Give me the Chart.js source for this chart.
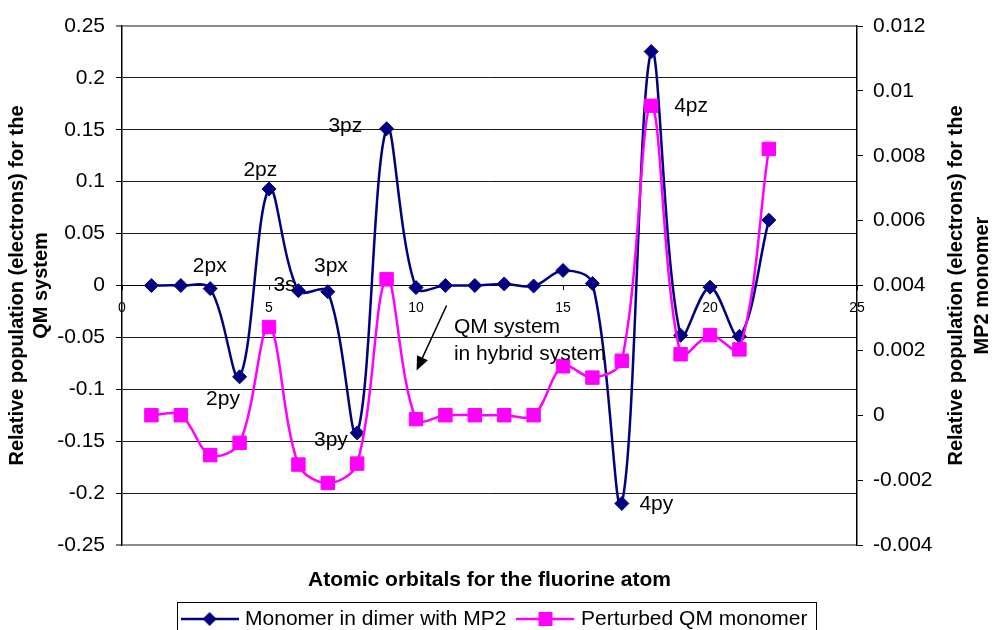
<!DOCTYPE html>
<html>
<head>
<meta charset="utf-8">
<script src="https://cdn.jsdelivr.net/npm/chart.js@4.4.1/dist/chart.umd.min.js"></script>
<style>
  html, body { margin: 0; padding: 0; background: #fff; }
  #wrap { width: 992px; height: 630px; }
</style>
</head>
<body>
<div id="wrap"><canvas id="myChart" width="992" height="630"></canvas></div>
<script>
// orbital index (x) and both series
const orbitalIndex = [1, 2, 3, 4, 5, 6, 7, 8, 9, 10, 11, 12, 13, 14, 15, 16, 17, 18, 19, 20, 21, 22];
const monomerMP2 = [0, 0, -0.003, -0.088, 0.093, -0.005, -0.006, -0.142, 0.151, -0.002, 0, 0,
  0.0015, -0.0005, 0.0145, 0.002, -0.21, 0.2254, -0.048, -0.0016, -0.049, 0.063];
const perturbedQM = [0, 0, -0.00123, -0.00085, 0.00272, -0.00152, -0.00209, -0.00149, 0.00419, -0.00012, 0, 0,
  0, 0, 0.00151, 0.00116, 0.00168, 0.00954, 0.00188, 0.00247, 0.00203, 0.00821];

// tick values
const xTicks = [0, 5, 10, 15, 20, 25];
const leftTicks = [-0.25, -0.2, -0.15, -0.1, -0.05, 0, 0.05, 0.1, 0.15, 0.2, 0.25];
const rightTicks = [-0.004, -0.002, 0, 0.002, 0.004, 0.006, 0.008, 0.01, 0.012];

// orbital labels on the plot (in data units of the left axis)
const orbitalLabels = ['2px', '2pz', '3s', '3px', '3pz', '2py', '3py', '4py', '4pz'];
const orbitalLabelX = [2.41, 4.13, 5.15, 6.53, 7.02, 2.86, 6.53, 17.6, 18.78];
const orbitalLabelY = [0.0186, 0.1114, 0, 0.0186, 0.1535, -0.110, -0.1487, -0.211, 0.1724];

const noteLines = ['QM system', 'in hybrid system'];
const noteX = [11.29, 11.29];
const noteY = [-0.0402, -0.0658];
const arrowFrom = [11.04, -0.0193];
const arrowTo = [10.02, -0.0819];

const FONT = '"Liberation Sans", Arial, sans-serif';
Chart.defaults.font.family = FONT;
Chart.defaults.color = '#000';

function fmt(v) {
  return String(Math.round(v * 1e6) / 1e6);
}

// legend icons: line with the marker in the middle
function legendIcon(color, shape) {
  const c = document.createElement('canvas');
  c.width = 58; c.height = 20;
  const g = c.getContext('2d');
  g.strokeStyle = color; g.lineWidth = 2.5;
  g.beginPath(); g.moveTo(0, 10); g.lineTo(58, 10); g.stroke();
  g.fillStyle = color;
  g.beginPath();
  if (shape === 'diamond') {
    g.moveTo(29, 3); g.lineTo(36, 10); g.lineTo(29, 17); g.lineTo(22, 10);
  } else {
    g.rect(22, 3, 14, 14);
  }
  g.closePath(); g.fill();
  return c;
}
const icons = [legendIcon('#000080', 'diamond'), legendIcon('#FF00FF', 'square')];

// text, arrow, right axis title
const chartNotes = {
  id: 'chartNotes',
  afterDatasetsDraw(chart) {
    const {ctx, scales: {x, y}} = chart;
    ctx.save();
    ctx.fillStyle = '#000';
    ctx.font = '21px ' + FONT;
    ctx.textAlign = 'left';
    ctx.textBaseline = 'middle';
    orbitalLabels.forEach((t, i) => {
      ctx.fillText(t, x.getPixelForValue(orbitalLabelX[i]), y.getPixelForValue(orbitalLabelY[i]));
    });
    noteLines.forEach((t, i) => {
      ctx.fillText(t, x.getPixelForValue(noteX[i]), y.getPixelForValue(noteY[i]));
    });
    // arrow
    const x0 = x.getPixelForValue(arrowFrom[0]), y0 = y.getPixelForValue(arrowFrom[1]);
    const x1 = x.getPixelForValue(arrowTo[0]), y1 = y.getPixelForValue(arrowTo[1]);
    const a = Math.atan2(y1 - y0, x1 - x0);
    ctx.strokeStyle = '#000';
    ctx.lineWidth = 1.5;
    ctx.beginPath();
    ctx.moveTo(x0, y0);
    ctx.lineTo(x1 - 10 * Math.cos(a), y1 - 10 * Math.sin(a));
    ctx.stroke();
    ctx.beginPath();
    ctx.moveTo(x1, y1);
    ctx.lineTo(x1 - 14 * Math.cos(a) + 6 * Math.sin(a), y1 - 14 * Math.sin(a) - 6 * Math.cos(a));
    ctx.lineTo(x1 - 14 * Math.cos(a) - 6 * Math.sin(a), y1 - 14 * Math.sin(a) + 6 * Math.cos(a));
    ctx.closePath();
    ctx.fill();
    ctx.restore();
  },
  afterDraw(chart) {
    const {ctx, chartArea} = chart;
    ctx.save();
    // right axis title, same rotation as the left one
    ctx.font = 'bold 20px ' + FONT;
    ctx.fillStyle = '#000';
    ctx.textAlign = 'center';
    ctx.textBaseline = 'middle';
    const cy = (chartArea.top + chartArea.bottom) / 2;
    [['Relative population (electrons) for the', 956], ['MP2 monomer', 982]].forEach(([t, px]) => {
      ctx.save();
      ctx.translate(px, cy);
      ctx.rotate(-Math.PI / 2);
      ctx.fillText(t, 0, 0);
      ctx.restore();
    });
    // legend frame
    const lg = chart.legend;
    if (lg && lg.legendHitBoxes.length) {
      const hb = lg.legendHitBoxes;
      const l = Math.min(...hb.map(b => b.left)) - 8;
      const r = Math.max(...hb.map(b => b.left + b.width)) + 8;
      ctx.strokeStyle = '#000';
      ctx.lineWidth = 1;
      ctx.strokeRect(Math.round(l) + 0.5, Math.round(lg.top) + 7.5, Math.round(r - l), 60);
    }
    ctx.restore();
  }
};

const data = {
  datasets: [{
    label: 'Monomer in dimer with MP2',
    data: orbitalIndex.map((v, i) => ({x: v, y: monomerMP2[i]})),
    yAxisID: 'y',
    borderColor: '#000080',
    backgroundColor: '#000080',
    borderWidth: 2.5,
    pointStyle: 'rectRot',
    pointRadius: 7,
    pointBorderWidth: 1,
    tension: 0.35,
    order: 1
  }, {
    label: 'Perturbed QM monomer',
    data: orbitalIndex.map((v, i) => ({x: v, y: perturbedQM[i]})),
    yAxisID: 'y2',
    borderColor: '#FF00FF',
    backgroundColor: '#FF00FF',
    borderWidth: 2.5,
    pointStyle: 'rect',
    pointRadius: 9.5,
    pointBorderWidth: 1,
    tension: 0.35,
    order: 0
  }]
};

const config = {
  type: 'line',
  data: data,
  options: {
    responsive: false,
    animation: false,
    layout: { padding: { top: 26, left: 0, right: 0, bottom: -9.5 } },
    plugins: {
      tooltip: { enabled: false },
      title: {
        display: true,
        text: 'Atomic orbitals for the fluorine atom',
        position: 'bottom',
        fullSize: false,
        weight: 500,
        font: { size: 21, weight: 'bold' },
        color: '#000',
        padding: { top: 22.4, bottom: 1.9 }
      },
      legend: {
        position: 'bottom',
        labels: {
          font: { size: 21 },
          color: '#000',
          usePointStyle: true,
          pointStyleWidth: 50,
          padding: 14,
          sort: (a, b) => a.datasetIndex - b.datasetIndex,
          generateLabels(chart) {
            const items = Chart.defaults.plugins.legend.labels.generateLabels(chart);
            items.forEach(it => { it.pointStyle = icons[it.datasetIndex]; });
            return items;
          }
        }
      }
    },
    scales: {
      x: {
        type: 'linear',
        position: { y: 0 },
        min: 0,
        max: 25,
        afterBuildTicks: s => { s.ticks = xTicks.map(v => ({value: v})); },
        ticks: { font: { size: 14 }, color: '#000', padding: 10 },
        grid: { drawOnChartArea: false, drawTicks: true, tickLength: 4, color: '#000' },
        border: { color: '#000', width: 1 }
      },
      y: {
        position: 'left',
        min: -0.25,
        max: 0.25,
        afterBuildTicks: s => { s.ticks = leftTicks.map(v => ({value: v})); },
        afterFit: s => { s.width = 122; },
        ticks: { font: { size: 21 }, color: '#000', padding: 11, callback: v => fmt(v) },
        grid: {
          color: c => (c.tick && Math.abs(Math.abs(c.tick.value) - 0.25) < 1e-9) ? '#8c8c8c' : '#1a1a1a',
          lineWidth: c => (c.tick && Math.abs(Math.abs(c.tick.value) - 0.25) < 1e-9) ? 2 : 1,
          tickColor: '#000',
          tickWidth: 1,
          tickLength: 6
        },
        border: { color: '#000', width: 1.5 },
        title: {
          display: true,
          text: ['Relative population (electrons) for the', 'QM system'],
          font: { size: 20, weight: 'bold', lineHeight: 1.2 },
          color: '#000',
          padding: { top: 5, bottom: 0 }
        }
      },
      y2: {
        position: 'right',
        min: -0.004,
        max: 0.012,
        afterBuildTicks: s => { s.ticks = rightTicks.map(v => ({value: v})); },
        afterFit: s => { s.width = 135; },
        ticks: { font: { size: 21 }, color: '#000', padding: 10, callback: v => fmt(v) },
        grid: { drawOnChartArea: false, tickColor: '#000', tickLength: 6, tickWidth: 1 },
        border: { color: '#000', width: 1.5 }
      }
    }
  },
  plugins: [chartNotes]
};

const myChart = new Chart(document.getElementById('myChart'), config);
</script>
</body>
</html>
